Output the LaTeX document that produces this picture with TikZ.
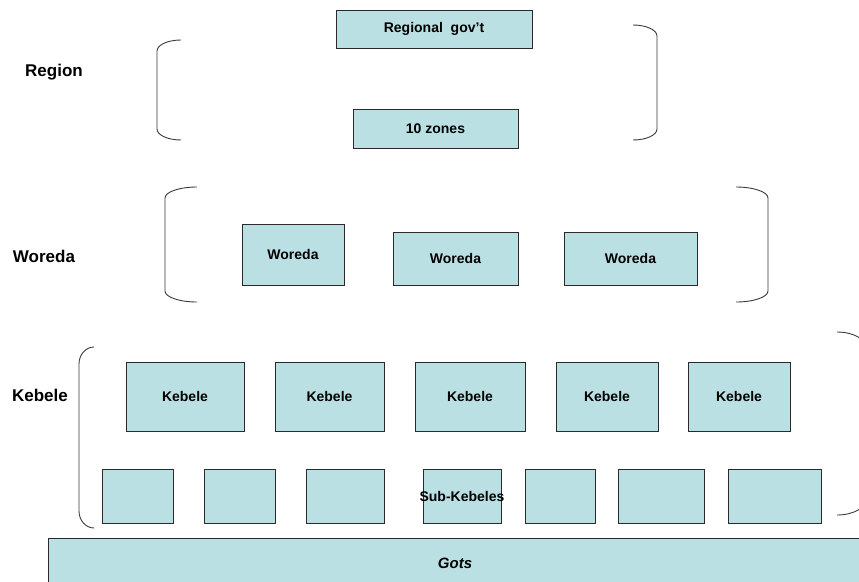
\documentclass[tikz,border=0pt]{standalone}
\usepackage{fontspec}
\setmainfont{Liberation Sans}
\definecolor{boxfill}{HTML}{BBE0E3}
\definecolor{boxline}{HTML}{2A2A2A}
\definecolor{brkline}{HTML}{3A3A3A}
\newcommand\hbrk[5]{\draw[brk] (#1,#3) .. controls ({#1+0.552*(#2-#1)},#3) and (#2,{#3+0.448*#5}) .. (#2,{#3+#5}) -- (#2,{#4-#5}) .. controls (#2,{#4-0.448*#5}) and ({#1+0.552*(#2-#1)},#4) .. (#1,#4);}
\tikzset{
  unitbox/.style={draw=boxline, fill=boxfill, line width=0.9pt, inner sep=0pt, font=\fontsize{14}{16}\selectfont\bfseries},
  sidelabel/.style={inner sep=0pt, font=\fontsize{17}{19}\selectfont\bfseries},
  brk/.style={draw=brkline, line width=0.9pt},
}
\begin{document}
\begin{tikzpicture}[x=1pt,y=-1pt]
\fill[white] (0,0) rectangle (859,581);
\useasboundingbox (0,0) rectangle (859,581);
\clip (0,0) rectangle (859,581);
% side labels
\node[sidelabel] (lregion) at (54,72) {Region};
\node[sidelabel] (lworeda) at (44,256) {Woreda};
\node[sidelabel] (lkebele) at (40,395) {Kebele};
% region
\node[unitbox, minimum width=196pt, minimum height=38pt] (reg) at (434,29) {Regional\ \ gov’t};
\node[unitbox, minimum width=165pt, minimum height=39pt] (zones) at (435.5,128.5) {10 zones};
\hbrk{181}{157}{40}{140}{11}
\hbrk{633}{657}{25}{140}{11}
% woreda
\node[unitbox, minimum width=102pt, minimum height=61pt] (w1) at (293,254.5) {Woreda};
\node[unitbox, minimum width=125pt, minimum height=53pt] (w2) at (455.5,258.5) {Woreda};
\node[unitbox, minimum width=133pt, minimum height=53pt] (w3) at (630.5,258.5) {Woreda};
\hbrk{197}{165}{187}{302}{11}
\hbrk{736}{768}{187}{302}{11}
% kebele
\node[unitbox, minimum width=118pt, minimum height=69pt] (k1) at (185,396.5) {Kebele};
\node[unitbox, minimum width=109pt, minimum height=69pt] (k2) at (329.5,396.5) {Kebele};
\node[unitbox, minimum width=110pt, minimum height=69pt] (k3) at (470,396.5) {Kebele};
\node[unitbox, minimum width=102pt, minimum height=69pt] (k4) at (607,396.5) {Kebele};
\node[unitbox, minimum width=102pt, minimum height=69pt] (k5) at (739,396.5) {Kebele};
% sub-kebeles
\node[unitbox, minimum width=71pt, minimum height=54pt] (s1) at (137.5,496) {};
\node[unitbox, minimum width=71pt, minimum height=54pt] (s2) at (239.5,496) {};
\node[unitbox, minimum width=78pt, minimum height=54pt] (s3) at (345,496) {};
\node[unitbox, minimum width=78pt, minimum height=54pt] (s4) at (462,496) {};
\node[unitbox, minimum width=70pt, minimum height=54pt] (s5) at (560,496) {};
\node[unitbox, minimum width=86pt, minimum height=54pt] (s6) at (661,496) {};
\node[unitbox, minimum width=93pt, minimum height=54pt] (s7) at (774.5,496) {};
\node[font=\fontsize{14}{16}\selectfont\bfseries, inner sep=0pt] (subtxt) at (s4) {Sub-Kebeles};
\hbrk{94}{79}{347}{528}{17}
\hbrk{837}{867}{332}{515}{17}
% gots
\node[unitbox, minimum width=814pt, minimum height=50pt, font=\fontsize{15}{17}\selectfont\bfseries\itshape] (gots) at (455,563) {Gots};
\end{tikzpicture}
\end{document}
